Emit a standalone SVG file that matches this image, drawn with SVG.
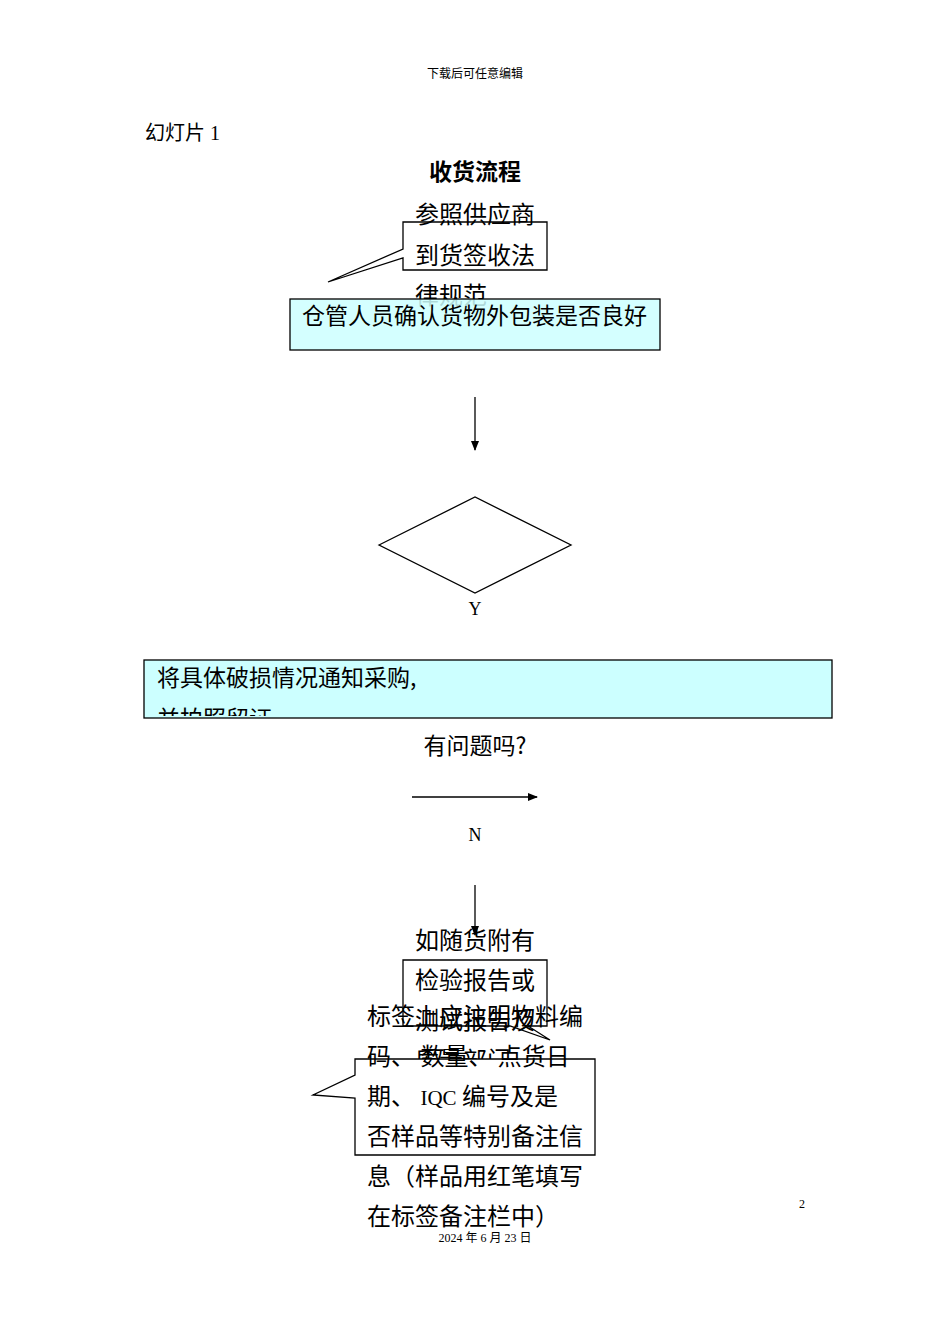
<svg xmlns="http://www.w3.org/2000/svg" width="950" height="1344" viewBox="0 0 950 1344">
<style>
.t{font-family:"Noto Sans CJK SC","Noto Sans",sans-serif;font-size:23px;fill:#000}
.c{font-family:"Noto Sans CJK SC","Noto Sans",sans-serif;font-size:24px;fill:#000}
.s{font-family:"Liberation Serif","Noto Sans CJK SC",serif;fill:#000}
.ln{stroke:#000;stroke-width:1.3;fill:none}
.box{fill:#ccffff;stroke:#000;stroke-width:1.3}
.call{fill:#fff;stroke:#000;stroke-width:1.3}
</style>
<defs>
<marker id="ah" markerWidth="10" markerHeight="10" refX="9" refY="5" orient="auto" markerUnits="userSpaceOnUse"><path d="M0,1 L10,5 L0,9 z" fill="#000"/></marker>
<clipPath id="cp"><rect x="144" y="660" width="688" height="56"/></clipPath>
</defs>
<text class="s" x="475" y="78" font-size="12" text-anchor="middle">下载后可任意编辑</text>
<text class="s" x="145" y="140" font-size="20">幻灯片 1</text>
<text class="t" x="475" y="180" text-anchor="middle" font-weight="bold" font-size="22">收货流程</text>
<g id="callout1">
<path class="call" d="M403,222 H547 V270 H403 V258 L328,282 L403,249 Z"/>
<text class="c" x="415" y="223">参照供应商</text>
<text class="c" x="415" y="264">到货签收法</text>
<text class="c" x="415" y="304">律规范</text>
</g>
<g id="box1">
<rect class="box" x="290" y="299" width="370" height="51" fill-opacity="0.85"/>
<text class="t" x="302" y="324">仓管人员确认货物外包装是否良好</text>
</g>
<g id="diamond">
<path d="M379,545 L475,497 L571,545 L475,593 Z" fill="#fff" stroke="#000" stroke-width="1.3"/>
</g>
<g id="box2">
<rect class="box" x="144" y="660" width="688" height="58"/>
<text class="t" x="157" y="686">将具体破损情况通知采购,</text>
<text class="t" x="157" y="727" clip-path="url(#cp)">并拍照留证</text>
</g>
<text class="t" x="475" y="754" text-anchor="middle" font-size="22">有问题吗?</text>
<text class="s" x="475" y="615" font-size="18" text-anchor="middle">Y</text>
<text class="s" x="475" y="841" font-size="18" text-anchor="middle">N</text>
<g id="connectors">
<line class="ln" x1="475" y1="397" x2="475" y2="450" marker-end="url(#ah)"/>
<line class="ln" x1="412" y1="797" x2="537" y2="797" marker-end="url(#ah)"/>
<line class="ln" x1="475" y1="885" x2="475" y2="935" marker-end="url(#ah)"/>
</g>
<g id="callout2">
<path class="call" d="M403,960 H547 V1026 H528 L550,1040 L510,1026 H403 Z"/>
<text class="c" x="415" y="949">如随货附有</text>
<text class="c" x="415" y="989">检验报告或</text>
<text class="c" x="415" y="1029">测试报告及</text>
<text class="c" x="415" y="1069">质量部门</text>
</g>
<g id="callout3">
<path class="call" d="M355,1059 H595 V1155 H355 V1098 L313,1095 L355,1075 Z"/>
<text class="c" x="367" y="1025">标签上应注明物料编</text>
<text class="c" x="367" y="1065">码、 数量、 点货日</text>
<text class="c" x="367" y="1105">期、 <tspan font-family="Liberation Serif" font-size="21">IQC</tspan> 编号及是</text>
<text class="c" x="367" y="1145">否样品等特别备注信</text>
<text class="c" x="367" y="1185">息（样品用红笔填写</text>
<text class="c" x="367" y="1225">在标签备注栏中）</text>
</g>
<text class="s" x="485" y="1242" font-size="12" text-anchor="middle">2024 年 6 月 23 日</text>
<text class="s" x="802" y="1208" font-size="12" text-anchor="middle">2</text>
</svg>
